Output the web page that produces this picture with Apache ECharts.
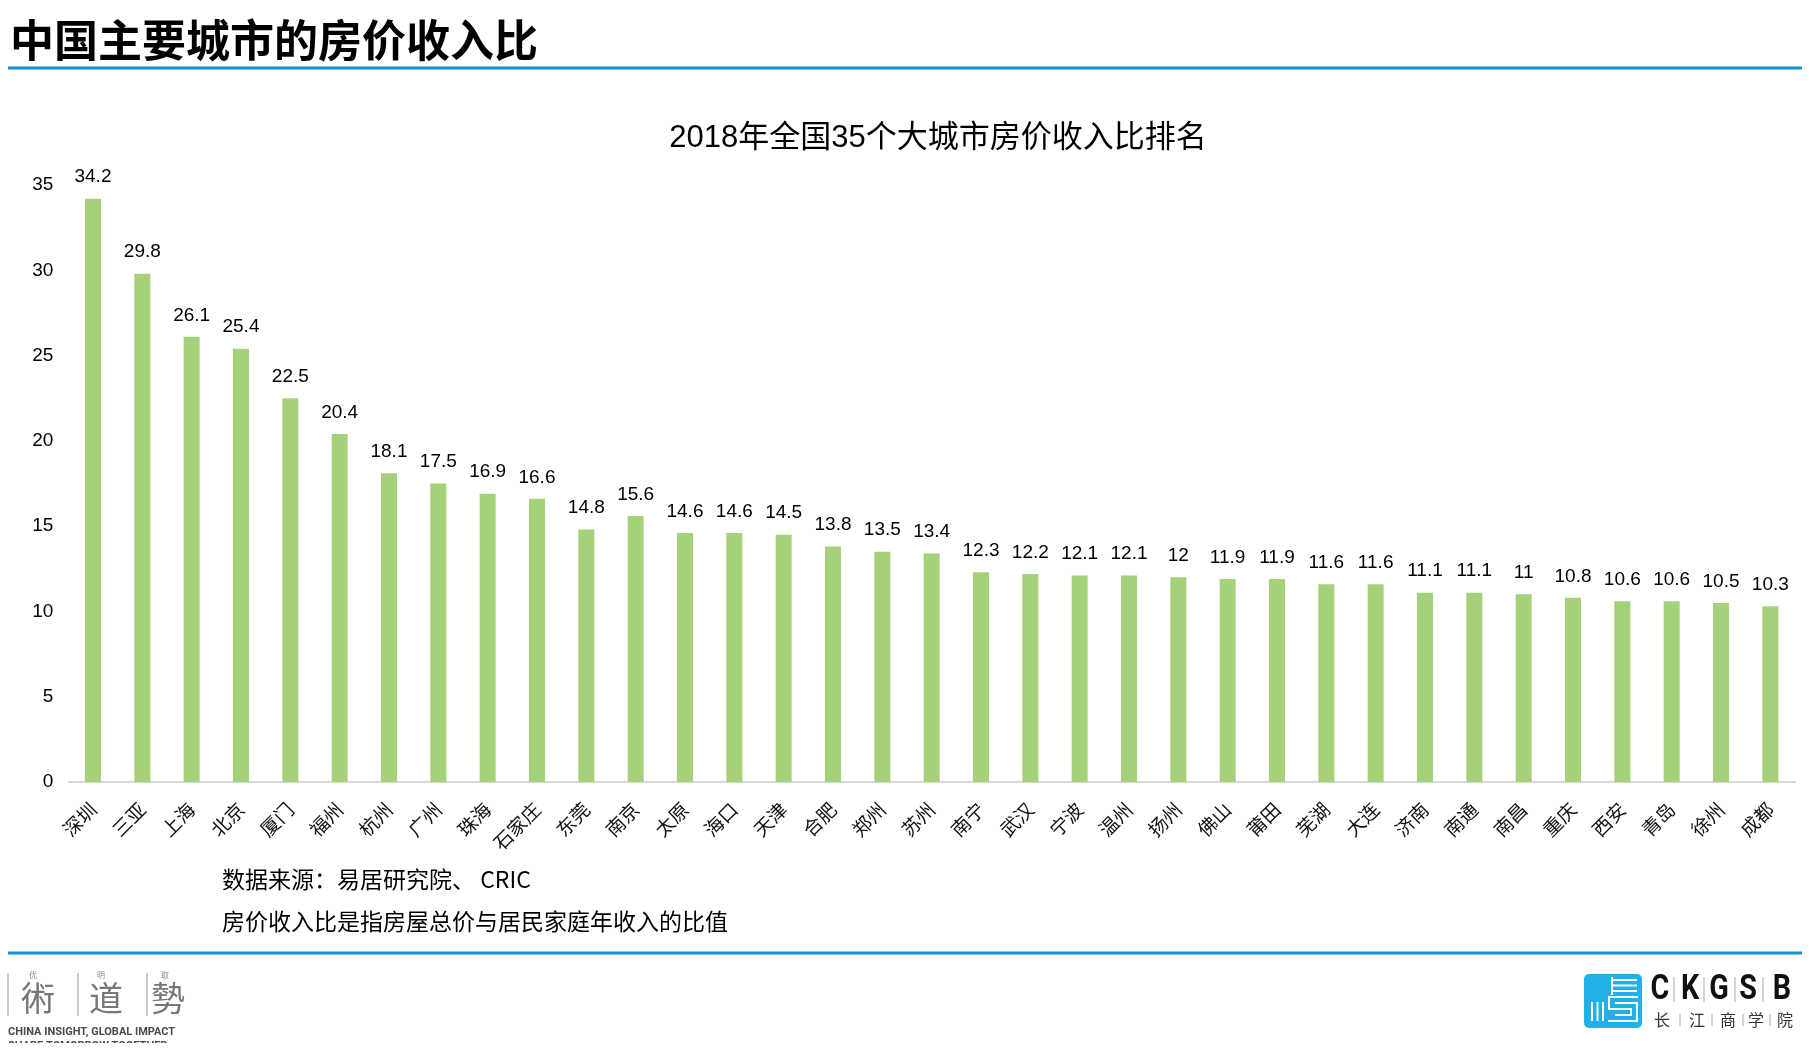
<!DOCTYPE html>
<html>
<head>
<meta charset="utf-8">
<script src="https://cdn.jsdelivr.net/npm/echarts@6/dist/echarts.min.js"></script>
<style>
html,body{margin:0;padding:0;background:#fff;}
#c{width:1816px;height:1058px;}
</style>
</head>
<body>
<div id="c"></div>
<script>
const cities = ['深圳','三亚','上海','北京','厦门','福州','杭州','广州','珠海','石家庄','东莞','南京','太原','海口','天津','合肥','郑州','苏州','南宁','武汉','宁波','温州','扬州','佛山','莆田','芜湖','大连','济南','南通','南昌','重庆','西安','青岛','徐州','成都'];
const ratios = [34.2,29.8,26.1,25.4,22.5,20.4,18.1,17.5,16.9,16.6,14.8,15.6,14.6,14.6,14.5,13.8,13.5,13.4,12.3,12.2,12.1,12.1,12,11.9,11.9,11.6,11.6,11.1,11.1,11,10.8,10.6,10.6,10.5,10.3];
const yMin = 0, yMax = 35, yInterval = 5;
const pageTitle = '中国主要城市的房价收入比';
const chartTitle = '2018年全国35个大城市房价收入比排名';
const noteSource = '数据来源：易居研究院、 CRIC';
const noteDef = '房价收入比是指房屋总价与居民家庭年收入的比值';

const CJK = '"Noto Sans CJK SC", "Noto Sans", sans-serif';
const LAT = '"Liberation Sans", Arial, sans-serif';
const BLUE = '#1591D6';

const chart = echarts.init(document.getElementById('c'), null, {renderer:'canvas'});

const ckLetters = ['C','K','G','S','B'];
const ckX = [1660,1690,1719,1748,1782];
const ckDiv = [1674,1704,1735,1763];
const cnLetters = ['长','江','商','学','院'];
const cnX = [1662,1697,1728,1756,1785];
const cnDiv = [1680,1712,1743,1770];

const graphics = [
  {type:'text', left:10, top:18, style:{text:pageTitle, font:'bold 44px '+CJK, fill:'#000'}},
  {type:'line', shape:{x1:8,y1:68,x2:1802,y2:68}, style:{stroke:BLUE, lineWidth:3}},
  {type:'text', x:938, y:138, style:{text:chartTitle, font:'31px '+LAT+','+CJK, fill:'#000', align:'center', verticalAlign:'middle'}},
  {type:'text', x:222, y:879, style:{text:noteSource, font:'23px '+CJK, fill:'#000', verticalAlign:'middle'}},
  {type:'text', x:222, y:921, style:{text:noteDef, font:'23px '+CJK, fill:'#000', verticalAlign:'middle'}},
  {type:'line', shape:{x1:8,y1:953,x2:1802,y2:953}, style:{stroke:BLUE, lineWidth:3}},
  // left logo
  {type:'line', shape:{x1:8,y1:973,x2:8,y2:1016}, style:{stroke:'#999', lineWidth:1}},
  {type:'line', shape:{x1:78,y1:973,x2:78,y2:1016}, style:{stroke:'#999', lineWidth:1}},
  {type:'line', shape:{x1:147,y1:973,x2:147,y2:1016}, style:{stroke:'#999', lineWidth:1}},
  {type:'text', x:33, y:975, style:{text:'优', font:'8px '+CJK, fill:'#888', align:'center', verticalAlign:'middle'}},
  {type:'text', x:101, y:975, style:{text:'明', font:'8px '+CJK, fill:'#888', align:'center', verticalAlign:'middle'}},
  {type:'text', x:165, y:975, style:{text:'取', font:'8px '+CJK, fill:'#888', align:'center', verticalAlign:'middle'}},
  {type:'text', x:38, y:998, style:{text:'術', font:'34px '+CJK, fill:'#777', align:'center', verticalAlign:'middle'}},
  {type:'text', x:106, y:998, style:{text:'道', font:'34px '+CJK, fill:'#777', align:'center', verticalAlign:'middle'}},
  {type:'text', x:168, y:998, style:{text:'勢', font:'34px '+CJK, fill:'#777', align:'center', verticalAlign:'middle'}},
  {type:'text', x:8, y:1032, style:{text:'CHINA INSIGHT, GLOBAL IMPACT', font:'bold 11px Roboto, sans-serif', fill:'#4a4a4a', verticalAlign:'middle'}},
  {type:'text', x:8, y:1046, style:{text:'SHAPE TOMORROW TOGETHER', font:'bold 11px Roboto, sans-serif', fill:'#4a4a4a', verticalAlign:'middle'}},
  {type:'rect', shape:{x:0,y:1043,width:300,height:20}, style:{fill:'#fff'}, z:200},
  // right logo icon
  {type:'rect', shape:{x:1584,y:974,width:58,height:54,r:5}, style:{fill:'#1FB1E8'}},
  {type:'line', shape:{x1:1612,y1:977,x2:1612,y2:995}, style:{stroke:'#fff', lineWidth:2}},
  {type:'line', shape:{x1:1612,y1:980,x2:1637,y2:980}, style:{stroke:'#fff', lineWidth:2}},
  {type:'line', shape:{x1:1612,y1:985.5,x2:1637,y2:985.5}, style:{stroke:'#fff', lineWidth:2}},
  {type:'line', shape:{x1:1612,y1:991,x2:1637,y2:991}, style:{stroke:'#fff', lineWidth:2}},
  {type:'line', shape:{x1:1592,y1:1002,x2:1592,y2:1021}, style:{stroke:'#fff', lineWidth:2}},
  {type:'line', shape:{x1:1597.5,y1:1002,x2:1597.5,y2:1021}, style:{stroke:'#fff', lineWidth:2}},
  {type:'line', shape:{x1:1603,y1:1002,x2:1603,y2:1021}, style:{stroke:'#fff', lineWidth:2}},
  {type:'polyline', shape:{points:[[1638,997],[1609,997],[1609,1009],[1631,1009],[1631,1015],[1615,1015]]}, style:{stroke:'#fff', lineWidth:2, fill:null}},
  {type:'polyline', shape:{points:[[1608,1021],[1637,1021],[1637,1003],[1615,1003]]}, style:{stroke:'#fff', lineWidth:2, fill:null}}
];
ckLetters.forEach((t,i)=>{
  graphics.push({type:'text', x:ckX[i], y:990, scaleX:0.82,
    style:{text:t, font:'bold 35px Roboto, sans-serif', fill:'#111', align:'center', verticalAlign:'middle'}});
});
ckDiv.forEach(x=>{
  graphics.push({type:'line', shape:{x1:x,y1:977,x2:x,y2:1002}, style:{stroke:'#aaa', lineWidth:1}});
});
cnLetters.forEach((t,i)=>{
  graphics.push({type:'text', x:cnX[i], y:1020, style:{text:t, font:'16px '+CJK, fill:'#333', align:'center', verticalAlign:'middle'}});
});
cnDiv.forEach(x=>{
  graphics.push({type:'line', shape:{x1:x,y1:1014,x2:x,y2:1026}, style:{stroke:'#aaa', lineWidth:1}});
});

chart.setOption({
  backgroundColor:'#fff',
  animation:false,
  grid:{left:68.3, right:21, top:185, bottom:276, containLabel:false},
  xAxis:{
    type:'category',
    data:cities,
    axisLine:{show:true, lineStyle:{color:'#d9d9d9', width:2}},
    axisTick:{show:false},
    axisLabel:{interval:0, rotate:45, margin:24, fontSize:19, color:'#111', fontFamily:CJK}
  },
  yAxis:{
    type:'value',
    min:yMin, max:yMax, interval:yInterval,
    axisLine:{show:false},
    axisTick:{show:false},
    splitLine:{show:false},
    axisLabel:{margin:15, fontSize:19, color:'#000', fontFamily:LAT}
  },
  series:[{
    type:'bar',
    data:ratios,
    barWidth:16,
    itemStyle:{color:'#A5D178'},
    label:{show:true, position:'top', distance:12, fontSize:19, color:'#000', fontFamily:LAT}
  }],
  graphic:graphics
});
</script>
</body>
</html>
